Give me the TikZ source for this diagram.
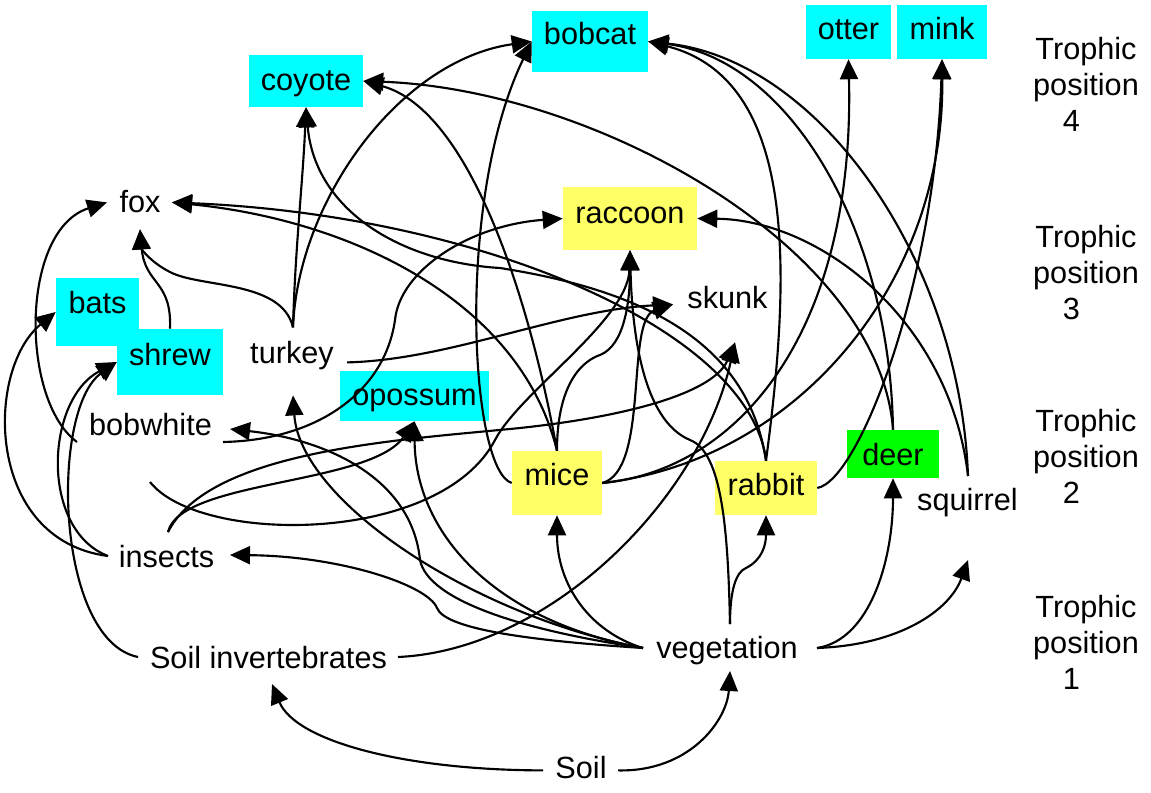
\documentclass[tikz,border=0pt]{standalone}
\usepackage{fontspec}
\setmainfont{Liberation Sans}
\usetikzlibrary{arrows.meta,calc}
\definecolor{boxcyan}{RGB}{0,255,255}
\definecolor{boxyellow}{RGB}{255,255,102}
\definecolor{boxgreen}{RGB}{0,255,0}
\begin{document}
\begin{tikzpicture}[x=0.75pt,y=-0.75pt,
  every node/.style={font=\fontsize{23pt}{27pt}\selectfont},
  txt/.style={inner sep=0pt, text height=16.5pt, text depth=4.8pt},
  box/.style={inner sep=0pt},
  tb/.style 2 args={text height=#1, text depth=#2},
  link/.style={line width=1.6pt, -{Triangle[length=15pt,width=13.5pt]}},
  lab/.style={inner sep=0pt, align=center, anchor=north}]
\useasboundingbox (0,0) rectangle (1151,792);

% coloured boxes
\node[box, fill=boxcyan, minimum width=62.25pt, minimum height=51pt, tb={10.75pt}{9.25pt}] (bats) at (97.5,312) {bats};
\node[box, fill=boxcyan, minimum width=79.5pt, minimum height=49.5pt, tb={12.25pt}{7.75pt}] (shrew) at (170,362) {shrew};
\node[box, fill=boxcyan, minimum width=87pt, minimum height=45.75pt, tb={12.6pt}{7.4pt}] (bobcat) at (590,41.5) {bobcat};
\node[box, fill=boxcyan, minimum width=85.5pt, minimum height=39pt, tb={16.75pt}{3.25pt}] (coyote) at (306,81) {coyote};
\node[box, fill=boxcyan, minimum width=63.75pt, minimum height=40.5pt, tb={16pt}{4pt}] (otter) at (848.5,32) {otter};
\node[box, fill=boxcyan, minimum width=67.5pt, minimum height=40.5pt, tb={16pt}{4pt}] (mink) at (942,32) {mink};
\node[box, fill=boxyellow, minimum width=100.5pt, minimum height=47.25pt, tb={14.1pt}{5.9pt}] (raccoon) at (630,218.5) {raccoon};
\node[box, fill=boxcyan, minimum width=111.75pt, minimum height=37.5pt, tb={16.75pt}{3.25pt}] (opossum) at (414.5,396) {opossum};
\node[box, fill=boxyellow, minimum width=67.5pt, minimum height=48pt, tb={11.5pt}{8.5pt}] (mice) at (557,483) {mice};
\node[box, fill=boxyellow, minimum width=76.5pt, minimum height=40.5pt, tb={15.25pt}{4.75pt}] (rabbit) at (766,488) {rabbit};
\node[box, fill=boxgreen, minimum width=69pt, minimum height=36pt, tb={18.25pt}{1.75pt}] (deer) at (893,454) {deer};

% plain labels
\node[txt] (fox) at (140,204.4) {fox};
\node[txt] (skunk) at (727.5,300.4) {skunk};
\node[txt] (turkey) at (292,355.4) {turkey};
\node[txt] (bobwhite) at (150.5,427.4) {bobwhite};
\node[txt] (insects) at (166.5,559.4) {insects};
\node[txt] (soilinv) at (268.5,660.4) {Soil invertebrates};
\node[txt] (veg) at (727,650.4) {vegetation};
\node[txt] (squirrel) at (967.5,502.4) {squirrel};
\node[txt] (soil) at (581,770.4) {Soil};

% trophic levels
\node[lab] (tp4) at (1086,37) {Trophic\\position\\4\makebox[0.95em]{}};
\node[lab] (tp3) at (1086,225.5) {Trophic\\position\\3\makebox[0.95em]{}};
\node[lab] (tp2) at (1086,409) {Trophic\\position\\2\makebox[0.95em]{}};
\node[lab] (tp1) at (1086,595) {Trophic\\position\\1\makebox[0.95em]{}};

% soil
\draw[link] ($(soil)+(-38,0)$) .. controls (400,770) and (295,740) .. ($(soilinv)+(3.5,23.6)$);
\draw[link] ($(soil)+(37,0)$) .. controls (690,772) and (727,720) .. ($(veg)+(3,20.6)$);

% vegetation
\draw[link] ($(veg)+(-84,-2.4)$) .. controls (520,640) and (445,628) .. (437,608) .. controls (428,585) and (340,556) .. ($(insects)+(63.5,-4.4)$);
\draw[link] ($(veg)+(-84,-2.4)$) .. controls (520,630) and (428,600) .. (420,560) .. controls (412,480) and (330,440) .. ($(bobwhite)+(79.5,1.6)$);
\draw[link] ($(veg)+(-84,-2.4)$) .. controls (470,615) and (300,500) .. ($(turkey)+(1,40)$);
\draw[link] ($(veg)+(-84,-2.4)$) .. controls (490,620) and (415,530) .. (opossum.south);
\draw[link] ($(veg)+(-84,-2.4)$) .. controls (590,632) and (557,585) .. (mice.south);
\draw[link] ($(veg)+(3,-26.4)$) .. controls (730,590) and (736,572) .. (746,568) .. controls (762,560) and (766,545) .. (rabbit.south);
\draw[link] ($(veg)+(3,-26.4)$) .. controls (728,530) and (722,452) .. (690,440) .. controls (642,420) and (632,330) .. (raccoon.south);
\draw[link] ($(veg)+(90,-2.4)$) .. controls (870,640) and (893,560) .. (deer.south);
\draw[link] ($(veg)+(90,-2.4)$) .. controls (900,645) and (950,610) .. ($(squirrel)+(0.5,57.6)$);

% soil invertebrates
\draw[link] ($(soilinv)+(-130.5,-3.4)$) .. controls (55,640) and (50,410) .. (shrew.west);
\draw[link] ($(soilinv)+(129.5,-3.4)$) .. controls (550,650) and (700,500) .. ($(skunk)+(7.5,42)$);

% insects
\draw[link] ($(insects)+(-58.5,-3.4)$) .. controls (40,530) and (45,400) .. (shrew.west);
\draw[link] ($(insects)+(-58.5,-3.4)$) .. controls (-15,540) and (-15,370) .. (bats.west);
\draw[link] ($(insects)+(1.5,-27.4)$) .. controls (180,480) and (370,485) .. (opossum.south);
\draw[link] ($(insects)+(1.5,-27.4)$) .. controls (210,450) and (400,440) .. (520,428) .. controls (640,415) and (715,390) .. ($(skunk)+(7.5,42)$);

% bobwhite
\draw[link] ($(bobwhite)+(-73.5,14.6)$) .. controls (20,400) and (20,230) .. ($(fox)+(-33,-2)$);
\draw[link] ($(bobwhite)+(72.5,14.6)$) .. controls (320,440) and (385,390) .. (395,320) .. controls (400,270) and (470,225) .. (raccoon.west);
\draw[link] ($(bobwhite)+(-0.5,54.6)$) .. controls (200,545) and (440,545) .. (495,440) .. controls (520,392) and (628,320) .. (raccoon.south);

% shrew and turkey
\draw[link] (shrew.north) .. controls (172,280) and (145,285) .. ($(fox)+(0,25)$);
\draw[link] ($(turkey)+(1,-28)$) .. controls (282,280) and (200,288) .. (170,272) .. controls (150,262) and (141,248) .. ($(fox)+(0,25)$);
\draw[link] ($(turkey)+(1,-28)$) .. controls (295,250) and (303,180) .. (coyote.south);
\draw[link] ($(turkey)+(1,-28)$) .. controls (298,200) and (400,60) .. (bobcat.west);
\draw[link] ($(turkey)+(55,7)$) .. controls (450,360) and (560,310) .. ($(skunk)+(-54.5,4)$);

% mice
\draw[link] (mice.north) .. controls (530,300) and (470,110) .. (coyote.east);
\draw[link] (mice.north) .. controls (520,300) and (350,220) .. ($(fox)+(32,-2)$);
\draw[link] (mice.west) .. controls (470,470) and (455,200) .. (bobcat.west);
\draw[link] (mice.north) .. controls (557,380) and (585,360) .. (600,355) .. controls (625,345) and (630,300) .. (raccoon.south);
\draw[link] (mice.east) .. controls (650,470) and (625,320) .. ($(skunk)+(-54.5,4)$);
\draw[link] (mice.east) .. controls (740,470) and (855,330) .. (otter.south);
\draw[link] (mice.east) .. controls (800,460) and (945,280) .. (mink.south);

% rabbit
\draw[link] (rabbit.east) .. controls (860,480) and (935,280) .. (mink.south);
\draw[link] (rabbit.north) .. controls (750,330) and (480,215) .. ($(fox)+(32,-2)$);
\draw[link] (rabbit.north) .. controls (748,340) and (640,290) .. (500,268) .. controls (400,262) and (315,210) .. (coyote.south);
\draw[link] (rabbit.north) .. controls (790,280) and (800,80) .. (bobcat.east);

% deer and squirrel
\draw[link] (deer.north) .. controls (880,250) and (600,90) .. (coyote.east);
\draw[link] (deer.north) .. controls (890,230) and (790,60) .. (bobcat.east);
\draw[link] ($(squirrel)+(0.5,-26.4)$) .. controls (950,320) and (820,220) .. (raccoon.east);
\draw[link] ($(squirrel)+(0.5,-26.4)$) .. controls (960,260) and (820,60) .. (bobcat.east);
\end{tikzpicture}
\end{document}
